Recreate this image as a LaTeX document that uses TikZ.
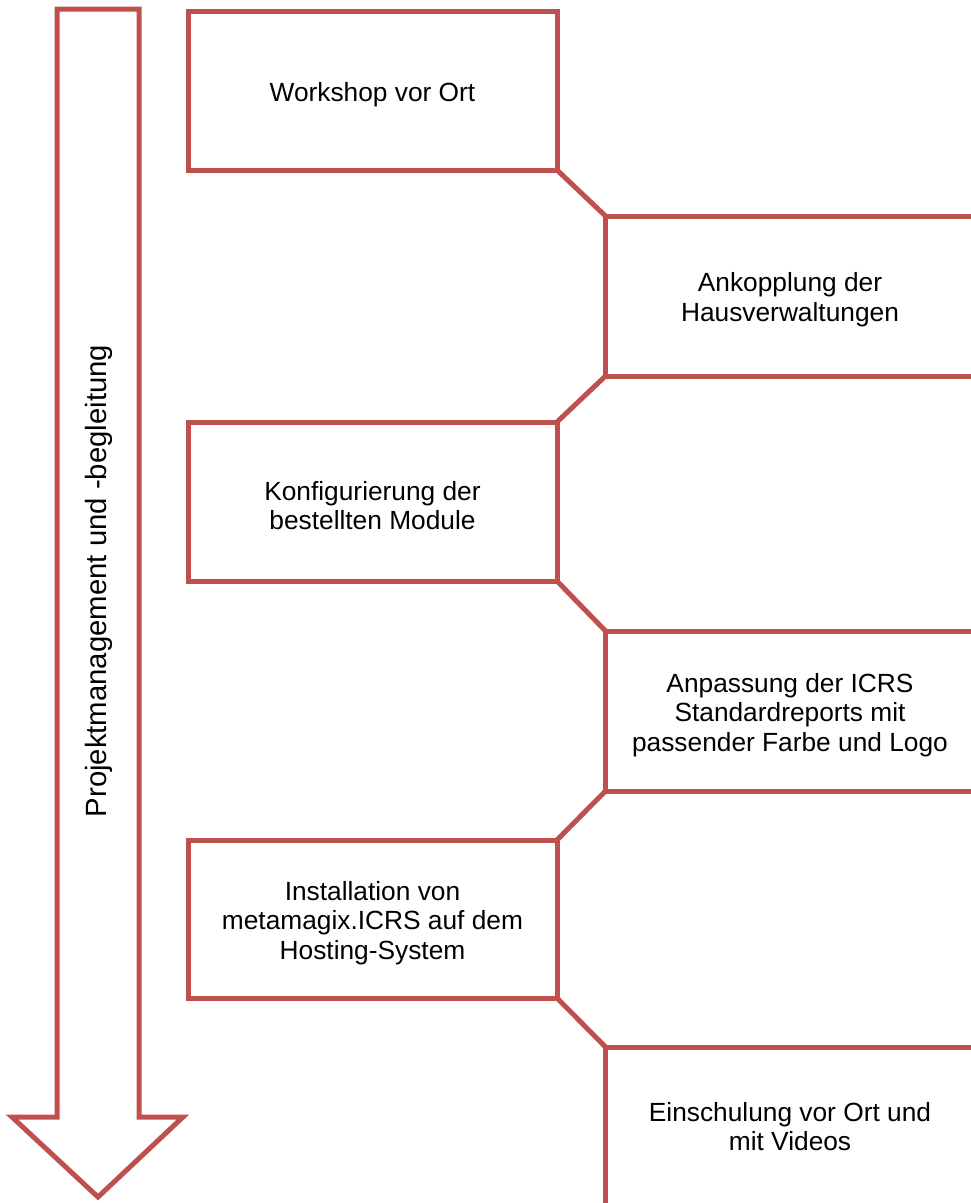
\documentclass[tikz,border=0pt]{standalone}
\usepackage{fontspec}
\setmainfont{Liberation Sans}
\definecolor{boxred}{HTML}{C0504D}
\begin{document}
\begin{tikzpicture}[x=1pt,y=-1pt,
  stepbox/.style={draw=boxred, line width=5pt, minimum width=369pt, minimum height=159pt,
    inner sep=0pt, outer sep=0pt},
  steptext/.style={align=center, inner sep=0pt, yshift=-4pt, font=\fontsize{26.3}{29.8}\selectfont},
  link/.style={draw=boxred, line width=5pt},
  bigarrow/.style={draw=boxred, line width=5pt, line join=miter}]
\useasboundingbox (0,0) rectangle (971,1203);
\clip (0,0) rectangle (971,1203);

\draw[bigarrow] (57,9) -- (139,9) -- (139,1117) -- (183,1117) -- (98,1197) -- (12,1117) -- (57,1117) -- cycle;
\node[rotate=90, font=\fontsize{29.3}{34}\selectfont, inner sep=0pt] (lbl) at (99,581) {Projektmanagement und -begleitung};

\node[stepbox] (b1) at (372.5,90.5) {};
\node[stepbox, minimum height=160pt] (b2) at (790,296) {};
\node[stepbox] (b3) at (372.5,501.5) {};
\node[stepbox, minimum height=160pt] (b4) at (790,711) {};
\node[stepbox, minimum height=158pt] (b5) at (372.5,919) {};
\node[stepbox] (b6) at (790,1126.5) {};

\node[steptext] (t1) at (b1.center) {Workshop vor Ort};
\node[steptext] (t2) at (b2.center) {Ankopplung der\\Hausverwaltungen};
\node[steptext] (t3) at (b3.center) {Konfigurierung der\\bestellten Module};
\node[steptext] (t4) at (b4.center) {Anpassung der ICRS\\Standardreports mit\\passender Farbe und Logo};
\node[steptext] (t5) at (b5.center) {Installation von\\metamagix.ICRS auf dem\\Hosting-System};
\node[steptext, yshift=4pt] (t6) at (b6.center) {Einschulung vor Ort und\\mit Videos};

\draw[link] (b1.south east) -- (b2.north west);
\draw[link] (b2.south west) -- (b3.north east);
\draw[link] (b3.south east) -- (b4.north west);
\draw[link] (b4.south west) -- (b5.north east);
\draw[link] (b5.south east) -- (b6.north west);
\end{tikzpicture}
\end{document}
